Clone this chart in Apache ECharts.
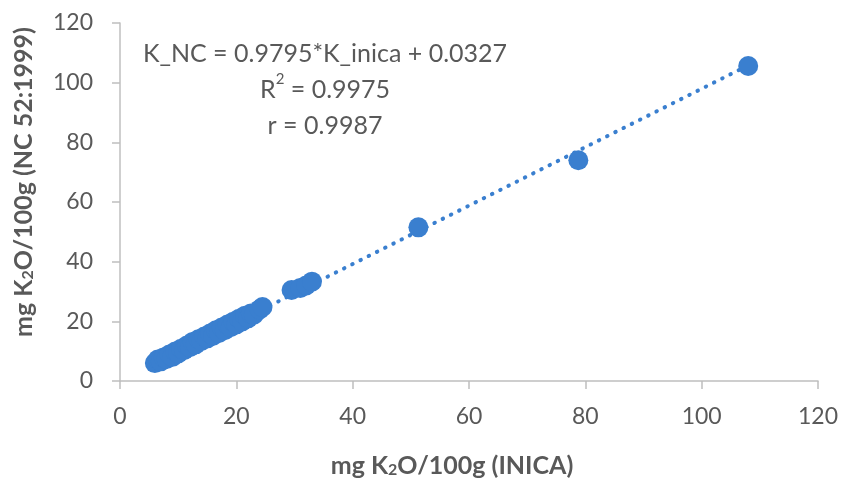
<!DOCTYPE html>
<html>
<head>
<meta charset="utf-8">
<script src="https://cdn.jsdelivr.net/npm/echarts@6/dist/echarts.min.js"></script>
<style>
  html, body { margin: 0; padding: 0; background: #fff; }
  #chart { width: 842px; height: 478px; }
</style>
</head>
<body>
<div id="chart"></div>
<script>
// K2O readings, INICA method (x) vs NC 52:1999 (y)
const inica = [6, 6.5, 7, 7.5, 8, 8.5, 9, 9.5, 10, 10.5, 11, 11.5, 12, 12.5, 13, 13.5, 14, 14.5, 15, 15.5,
  16, 16.5, 17, 17.5, 18, 18.5, 19, 19.5, 20, 20.5, 21, 21.5, 22, 22.5, 23, 24, 24.5,
  29.5, 31, 32, 33, 51.3, 78.8, 108]
const nc = [6, 7.2, 6.6, 7.9, 7.4, 8.9, 8.1, 9.9, 9.2, 10.8, 10.3, 11.9, 11.3, 13.1, 12.3, 14, 13.4, 14.9, 14.3, 15.9,
  15.2, 17, 16.1, 17.9, 17, 18.9, 18, 19.9, 19, 20.9, 20, 21.9, 21, 22.6, 22.2, 24, 24.8,
  30.5, 31.2, 32, 33.3, 51.5, 74, 105.6]
// ends of the dotted trend line
const trendX = [6, 108]
const trendY = [5.9, 105.8]
const axisTicks = [0, 20, 40, 60, 80, 100, 120]
const eqLines = ['K_NC = 0.9795*K_inica + 0.0327', 'R{sup|2} = 0.9975', 'r = 0.9987']

const blue = '#3a7fcf'
const grey = '#595959'
const font = 'Lato'

const chart = echarts.init(document.getElementById('chart'))

const axisCommon = {
  type: 'value',
  min: axisTicks[0],
  max: axisTicks[axisTicks.length - 1],
  interval: axisTicks[1] - axisTicks[0],
  splitLine: { show: false },
  axisLine: { show: true, lineStyle: { color: '#bfbfbf', width: 1.5 } },
  axisTick: { show: true, length: 8, lineStyle: { color: '#bfbfbf', width: 1.5 } },
  axisLabel: { color: grey, fontFamily: font, fontSize: 23 },
  nameLocation: 'middle',
  nameTextStyle: {
    color: grey, fontFamily: font, fontSize: 25, fontWeight: 'bold',
    rich: { sub: { fontSize: 16, fontWeight: 'bold', color: grey, fontFamily: font, verticalAlign: 'bottom', padding: [9, 0, 0, 0] } }
  }
}

chart.setOption({
  animation: false,
  grid: { left: 120, right: 24, top: 23, bottom: 97, outerBoundsMode: 'none', containLabel: false },
  xAxis: Object.assign({}, axisCommon, {
    name: 'mg K{sub|2}O/100g (INICA)',
    nameGap: 72,
    axisLabel: Object.assign({}, axisCommon.axisLabel, { margin: 24 }),
    nameTextStyle: Object.assign({}, axisCommon.nameTextStyle, { padding: [0, 34, 0, 0] })
  }),
  yAxis: Object.assign({}, axisCommon, {
    name: 'mg K{sub|2}O/100g (NC 52:1999)',
    nameGap: 84,
    axisLabel: Object.assign({}, axisCommon.axisLabel, { margin: 27 }),
    nameTextStyle: Object.assign({}, axisCommon.nameTextStyle, { padding: [0, 0, 0, 40] })
  }),
  graphic: [{
    type: 'text',
    x: 325,
    y: 36,
    style: {
      text: eqLines.join('\n'),
      align: 'center',
      verticalAlign: 'top',
      fill: grey,
      font: '25px ' + font,
      lineHeight: 36,
      rich: { sup: { fontSize: 15, fill: grey, fontFamily: font, verticalAlign: 'top', padding: [0, 0, 10, 0] } }
    }
  }],
  series: [{
    type: 'line',
    data: trendX.map((x, i) => [x, trendY[i]]),
    showSymbol: false,
    lineStyle: { color: blue, width: 4, type: [0.5, 8.7], cap: 'round' },
    silent: true,
    z: 1
  }, {
    type: 'scatter',
    data: inica.map((x, i) => [x, nc[i]]),
    symbolSize: 20,
    itemStyle: { color: blue, opacity: 1 },
    z: 2
  }]
})
</script>
</body>
</html>
